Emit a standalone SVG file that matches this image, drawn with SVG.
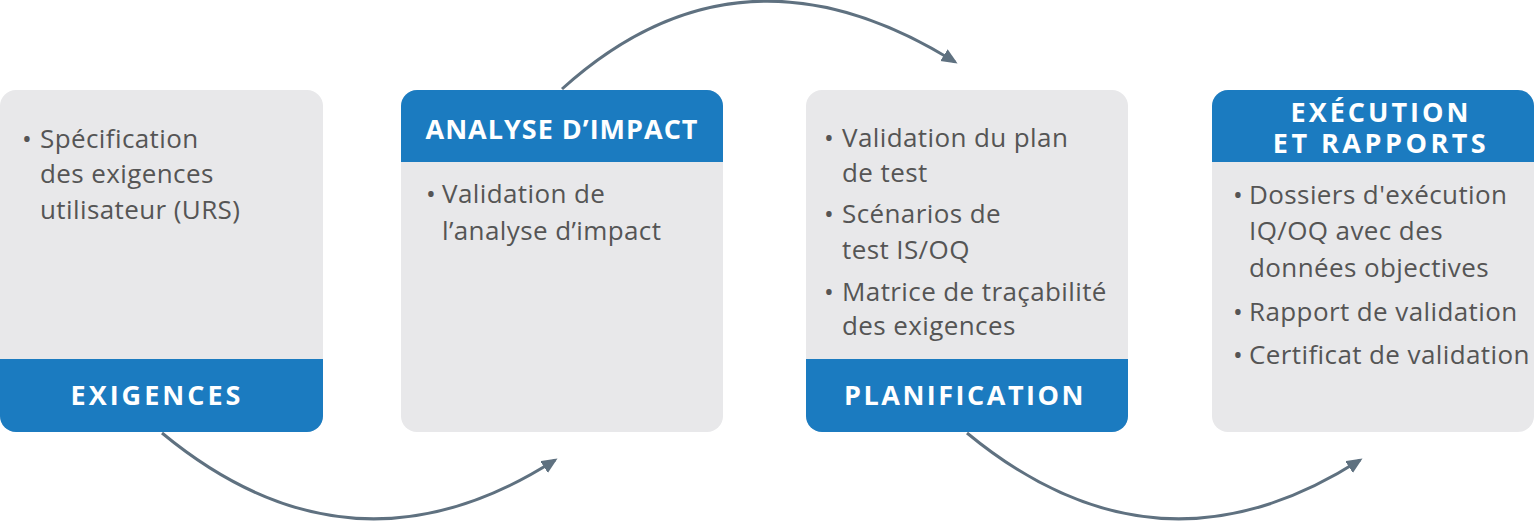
<svg xmlns="http://www.w3.org/2000/svg" width="1536" height="522" viewBox="0 0 1536 522">
<defs>
<style>
.card{fill:#E8E8EA}
.band{fill:#1B7BC0}
.body{font-family:"Open Sans","Liberation Sans",sans-serif;font-size:26px;fill:#555555;letter-spacing:0.4px}
.head{font-family:"Open Sans","Liberation Sans",sans-serif;font-size:27px;font-weight:700;fill:#FFFFFF;text-anchor:middle;letter-spacing:3px}
.conn{fill:none;stroke:#5F7180;stroke-width:3}
</style>
<marker id="ah" markerUnits="userSpaceOnUse" markerWidth="18" markerHeight="16" refX="13" refY="7" orient="auto">
<path d="M0,0 L16,7 L0,14 z" fill="#5F7180"/>
</marker>
<clipPath id="c1"><rect x="0" y="90" width="323" height="342" rx="16"/></clipPath>
<clipPath id="c2"><rect x="401" y="90" width="322" height="342" rx="16"/></clipPath>
<clipPath id="c3"><rect x="806" y="90" width="322" height="342" rx="16"/></clipPath>
<clipPath id="c4"><rect x="1212" y="90" width="322" height="342" rx="16"/></clipPath>
</defs>
<g id="connectors">
<path class="conn" d="M162,433 Q352,590 555,460" marker-end="url(#ah)"/>
<path class="conn" d="M562,89 Q740,-72 955,62" marker-end="url(#ah)"/>
<path class="conn" d="M967,433 Q1157,590 1360,460" marker-end="url(#ah)"/>
</g>
<g id="exigences">
<g clip-path="url(#c1)">
<rect class="card" x="0" y="90" width="323" height="342"/>
<rect class="band" x="0" y="359" width="323" height="73"/>
</g>
<text class="head" x="157" y="405">EXIGENCES</text>
<text class="body" x="22" y="148">•</text>
<text class="body" x="40" y="148">Spécification</text>
<text class="body" x="40" y="183">des exigences</text>
<text class="body" x="40" y="219">utilisateur (URS)</text>
</g>
<g id="analyse">
<g clip-path="url(#c2)">
<rect class="card" x="401" y="90" width="322" height="342"/>
<rect class="band" x="401" y="90" width="322" height="72"/>
</g>
<text class="head" x="562" y="139" style="letter-spacing:1px">ANALYSE D’IMPACT</text>
<text class="body" x="426" y="203">•</text>
<text class="body" x="442" y="203">Validation de</text>
<text class="body" x="442" y="240">l’analyse d’impact</text>
</g>
<g id="planification">
<g clip-path="url(#c3)">
<rect class="card" x="806" y="90" width="322" height="342"/>
<rect class="band" x="806" y="359" width="322" height="73"/>
</g>
<text class="head" x="965" y="405" style="letter-spacing:2.5px">PLANIFICATION</text>
<text class="body" x="824" y="147">•</text>
<text class="body" x="842" y="147">Validation du plan</text>
<text class="body" x="842" y="182">de test</text>
<text class="body" x="824" y="223">•</text>
<text class="body" x="842" y="223">Scénarios de</text>
<text class="body" x="842" y="259">test IS/OQ</text>
<text class="body" x="824" y="301">•</text>
<text class="body" x="842" y="301">Matrice de traçabilité</text>
<text class="body" x="842" y="335">des exigences</text>
</g>
<g id="execution">
<g clip-path="url(#c4)">
<rect class="card" x="1212" y="90" width="322" height="342"/>
<rect class="band" x="1212" y="90" width="322" height="72"/>
</g>
<text class="head"><tspan x="1381" y="122">EXÉCUTION</tspan><tspan x="1381" y="153" style="letter-spacing:3.5px">ET RAPPORTS</tspan></text>
<text class="body" x="1233" y="204">•</text>
<text class="body" x="1249" y="204">Dossiers d'exécution</text>
<text class="body" x="1249" y="240">IQ/OQ avec des</text>
<text class="body" x="1249" y="277">données objectives</text>
<text class="body" x="1233" y="321">•</text>
<text class="body" x="1249" y="321">Rapport de validation</text>
<text class="body" x="1233" y="364">•</text>
<text class="body" x="1249" y="364">Certificat de validation</text>
</g>
</svg>
